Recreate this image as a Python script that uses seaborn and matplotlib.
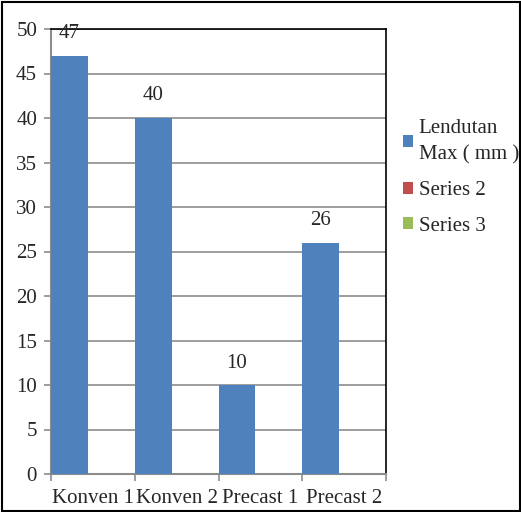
import matplotlib
matplotlib.use("Agg")
import matplotlib.pyplot as plt
import seaborn as sns
import pandas as pd
from matplotlib.patches import Rectangle

categories = ["Konven 1", "Konven 2", "Precast 1", "Precast 2"]
series_names = ["Lendutan\nMax ( mm )", "Series 2", "Series 3"]
lendutan = [47, 40, 10, 26]
series2 = [0, 0, 0, 0]
series3 = [0, 0, 0, 0]
colors = ["#4F81BD", "#C0504D", "#9BBB59"]
y_ticks = [0, 5, 10, 15, 20, 25, 30, 35, 40, 45, 50]

df = pd.DataFrame({
    "kategori": categories * 3,
    "nilai": lendutan + series2 + series3,
    "seri": [series_names[0]] * 4 + [series_names[1]] * 4 + [series_names[2]] * 4,
})

sns.set_theme(style="white")
plt.rcParams["font.family"] = ["Liberation Serif", "DejaVu Serif"]
FS = 15
plt.rcParams["font.size"] = FS

fig = plt.figure(figsize=(5.21, 5.12), dpi=100)
ax = fig.add_axes([51 / 521, 1 - 474 / 512, 335 / 521, 445 / 512])

bar_w = 0.44
sns.barplot(data=df, x="kategori", y="nilai", hue="seri", hue_order=series_names,
            palette=colors, dodge=False, width=bar_w, saturation=1, ax=ax,
            order=categories, linewidth=0, zorder=3)

# grid lines
ax.set_ylim(0, 50)
ax.set_yticks(y_ticks)
ax.yaxis.grid(True, color="#8C8C8C", linewidth=1.2, zorder=0)
ax.set_axisbelow(True)
ax.tick_params(axis="y", length=5, width=1.2, color="#8C8C8C", labelsize=FS, pad=5, left=True)

# bars sit at the left of each category slot
ax.set_xlim(-bar_w / 2, len(categories) - bar_w / 2)
centers = [k + 0.5 - bar_w / 2 for k in range(len(categories))]
bounds = [k - bar_w / 2 for k in range(len(categories) + 1)]
ax.set_xticks(centers)
ax.set_xticklabels(categories, fontsize=FS)
ax.set_xticks(bounds, minor=True)
ax.tick_params(axis="x", which="major", length=0, pad=11)
ax.tick_params(axis="x", which="minor", length=5, width=1.2, color="#8C8C8C", bottom=True)
ax.set_xlabel("")
ax.set_ylabel("")

for side in ["left", "bottom"]:
    ax.spines[side].set_color("#8C8C8C")
    ax.spines[side].set_linewidth(1.5)
for side in ["top", "right"]:
    ax.spines[side].set_color("black")
    ax.spines[side].set_linewidth(1.2)
    ax.spines[side].set_visible(True)

ax.bar_label(ax.containers[0], labels=[str(v) for v in lendutan], padding=9, fontsize=FS)

leg = ax.legend(loc="upper left", bbox_to_anchor=(403 / 521, 1 - 119 / 512),
                bbox_transform=fig.transFigure, frameon=False, fontsize=FS,
                handlelength=0.5, handleheight=0.5, handletextpad=0.25,
                labelspacing=0.8, borderaxespad=0, borderpad=0)
for t in leg.get_texts():
    t.set_linespacing(1.5)

fig.patches.append(Rectangle((1.5 / 521, 1.5 / 512), 1 - 3 / 521, 1 - 3 / 512,
                             transform=fig.transFigure, fill=False,
                             edgecolor="black", linewidth=1.5))

fig.savefig("out.png", dpi=100)
